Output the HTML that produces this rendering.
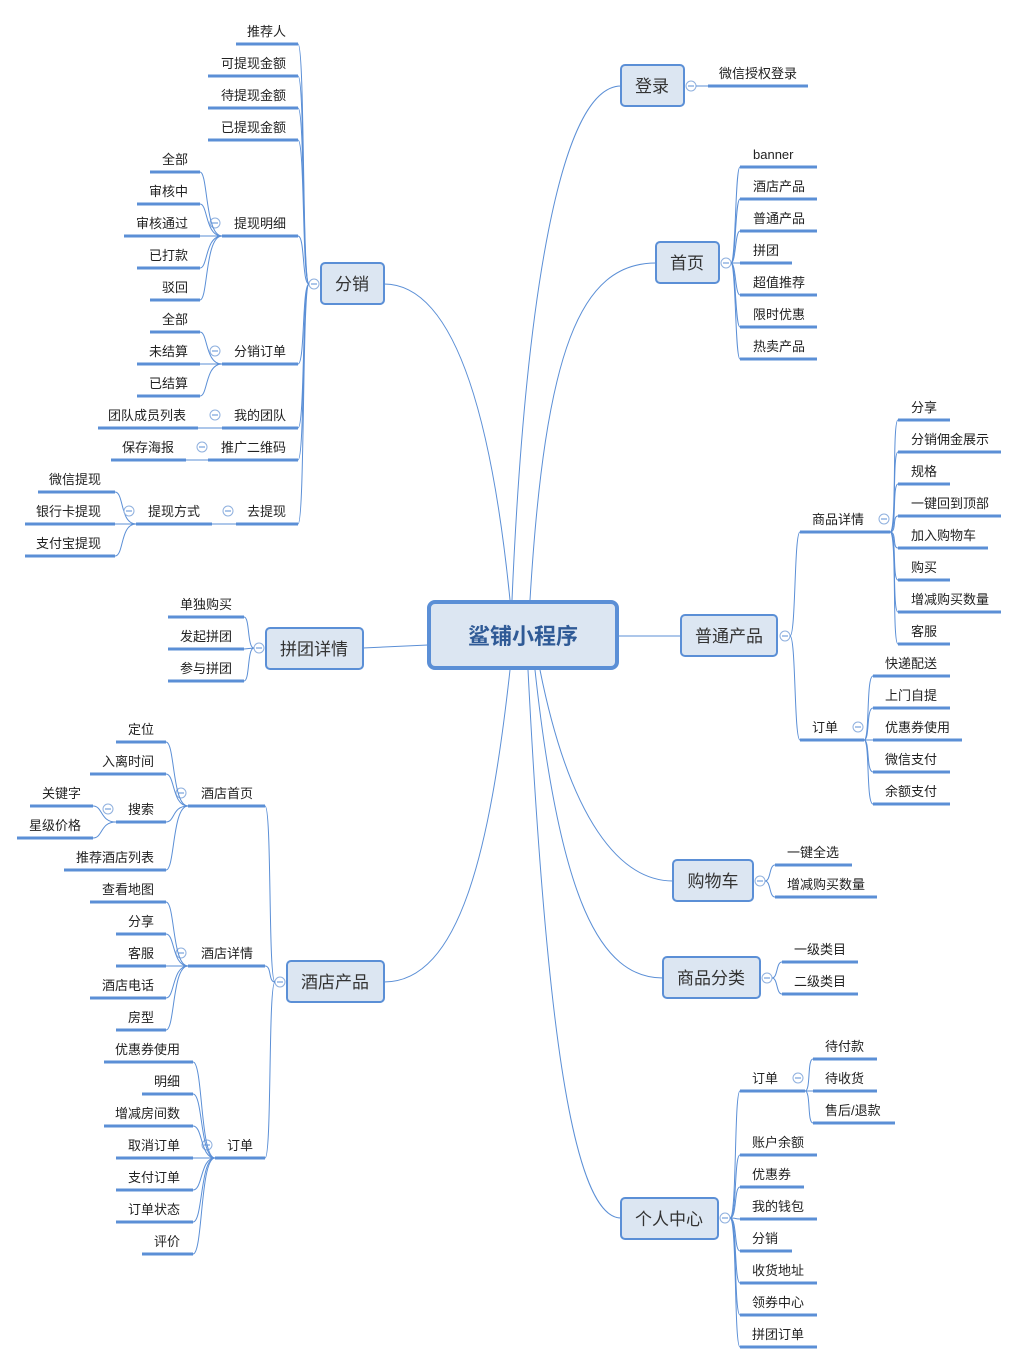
<!DOCTYPE html>
<html><head><meta charset="utf-8"><style>
html,body{margin:0;padding:0;background:#fff}
svg{display:block}
text{font-family:"Liberation Sans","Noto Sans CJK SC",sans-serif;font-size:13px;fill:#222}
.u{stroke:#5b8fd6;stroke-width:3}
.c{stroke:#5b8fd6;stroke-width:1;fill:none}
.m{fill:#dce6f2;stroke:#5b8fd6;stroke-width:2}
.mt{font-size:17px;fill:#333;text-anchor:middle}
.r{text-anchor:end}
.k{fill:#fff;stroke:#8fb0de;stroke-width:1}
</style></head><body>
<svg width="1019" height="1364" viewBox="0 0 1019 1364" xmlns="http://www.w3.org/2000/svg">
<!-- main connectors -->
<path class="c" d="M512 600 C525 300 560 86 621 86"/>
<path class="c" d="M530 600 C545 350 580 263 656 263"/>
<path class="c" d="M618 636 L681 636"/>
<path class="c" d="M540 670 C570 820 620 881 673 881"/>
<path class="c" d="M535 670 C560 900 600 978 663 978"/>
<path class="c" d="M528 670 C545 1000 570 1218 621 1218"/>
<path class="c" d="M510 600 C490 400 450 284 384 284"/>
<path class="c" d="M428 645 L363 648"/>
<path class="c" d="M510 670 C490 850 460 982 384 982"/>

<!-- center -->
<rect x="429" y="602" width="188" height="66" rx="6" fill="#dce6f2" stroke="#5b8fd6" stroke-width="4"/>
<text x="523" y="644" style="font-size:22px;font-weight:bold;fill:#2f5a96;text-anchor:middle">鲨铺小程序</text>

<!-- 登录 -->
<rect class="m" x="621" y="65" width="63" height="41" rx="4"/><text class="mt" x="652" y="92">登录</text>
<circle class="k" cx="691" cy="86" r="5"/><line x1="688" y1="86" x2="694" y2="86" class="c"/>
<path class="c" d="M696 86 L708 86"/>
<line class="u" x1="708" y1="86" x2="808" y2="86"/><text x="719" y="78">微信授权登录</text>

<!-- 首页 -->
<rect class="m" x="656" y="242" width="63" height="41" rx="4"/><text class="mt" x="687" y="269">首页</text>
<circle class="k" cx="726" cy="263" r="5"/><line x1="723" y1="263" x2="729" y2="263" class="c"/>
<g class="c">
<path d="M731 263 C736 263 735 167 740 167"/><path d="M731 263 C736 263 735 199 740 199"/><path d="M731 263 C736 263 735 231 740 231"/><path d="M731 263 L740 263"/><path d="M731 263 C736 263 735 295 740 295"/><path d="M731 263 C736 263 735 327 740 327"/><path d="M731 263 C736 263 735 359 740 359"/>
</g>
<g>
<line class="u" x1="740" y1="167" x2="817" y2="167"/><text x="753" y="159">banner</text>
<line class="u" x1="740" y1="199" x2="817" y2="199"/><text x="753" y="191">酒店产品</text>
<line class="u" x1="740" y1="231" x2="817" y2="231"/><text x="753" y="223">普通产品</text>
<line class="u" x1="740" y1="263" x2="792" y2="263"/><text x="753" y="255">拼团</text>
<line class="u" x1="740" y1="295" x2="817" y2="295"/><text x="753" y="287">超值推荐</text>
<line class="u" x1="740" y1="327" x2="817" y2="327"/><text x="753" y="319">限时优惠</text>
<line class="u" x1="740" y1="359" x2="817" y2="359"/><text x="753" y="351">热卖产品</text>
</g>

<!-- 普通产品 -->
<rect class="m" x="681" y="615" width="96" height="41" rx="4"/><text class="mt" x="729" y="642">普通产品</text>
<circle class="k" cx="785" cy="636" r="5"/><line x1="782" y1="636" x2="788" y2="636" class="c"/>
<path class="c" d="M790 636 C796 636 794 532 800 532"/><path class="c" d="M790 636 C796 636 794 740 800 740"/>
<line class="u" x1="800" y1="532" x2="890" y2="532"/><text x="812" y="524">商品详情</text>
<circle class="k" cx="884" cy="519" r="5"/><line x1="881" y1="519" x2="887" y2="519" class="c"/>
<g class="c">
<path d="M890 532 C897 532 892 420 898 420"/><path d="M890 532 C897 532 892 452 898 452"/><path d="M890 532 C897 532 892 484 898 484"/><path d="M890 532 C897 532 892 516 898 516"/><path d="M890 532 C897 532 892 548 898 548"/><path d="M890 532 C897 532 892 580 898 580"/><path d="M890 532 C897 532 892 612 898 612"/><path d="M890 532 C897 532 892 644 898 644"/>
</g>
<line class="u" x1="898" y1="420" x2="950" y2="420"/><text x="911" y="412">分享</text>
<line class="u" x1="898" y1="452" x2="1001" y2="452"/><text x="911" y="444">分销佣金展示</text>
<line class="u" x1="898" y1="484" x2="950" y2="484"/><text x="911" y="476">规格</text>
<line class="u" x1="898" y1="516" x2="1001" y2="516"/><text x="911" y="508">一键回到顶部</text>
<line class="u" x1="898" y1="548" x2="988" y2="548"/><text x="911" y="540">加入购物车</text>
<line class="u" x1="898" y1="580" x2="950" y2="580"/><text x="911" y="572">购买</text>
<line class="u" x1="898" y1="612" x2="1001" y2="612"/><text x="911" y="604">增减购买数量</text>
<line class="u" x1="898" y1="644" x2="950" y2="644"/><text x="911" y="636">客服</text>

<line class="u" x1="800" y1="740" x2="864" y2="740"/><text x="812" y="732">订单</text>
<circle class="k" cx="858" cy="727" r="5"/><line x1="855" y1="727" x2="861" y2="727" class="c"/>
<g class="c">
<path d="M864 740 C870 740 866 676 873 676"/><path d="M864 740 C870 740 866 708 873 708"/><path d="M864 740 L873 740"/><path d="M864 740 C870 740 866 772 873 772"/><path d="M864 740 C870 740 866 804 873 804"/>
</g>
<line class="u" x1="873" y1="676" x2="950" y2="676"/><text x="885" y="668">快递配送</text>
<line class="u" x1="873" y1="708" x2="950" y2="708"/><text x="885" y="700">上门自提</text>
<line class="u" x1="873" y1="740" x2="962" y2="740"/><text x="885" y="732">优惠券使用</text>
<line class="u" x1="873" y1="772" x2="950" y2="772"/><text x="885" y="764">微信支付</text>
<line class="u" x1="873" y1="804" x2="950" y2="804"/><text x="885" y="796">余额支付</text>

<!-- 购物车 -->
<rect class="m" x="673" y="860" width="80" height="41" rx="4"/><text class="mt" x="713" y="887">购物车</text>
<circle class="k" cx="760" cy="881" r="5"/><line x1="757" y1="881" x2="763" y2="881" class="c"/>
<path class="c" d="M765 881 C771 881 769 865 775 865"/><path class="c" d="M765 881 C771 881 769 897 775 897"/>
<line class="u" x1="775" y1="865" x2="852" y2="865"/><text x="787" y="857">一键全选</text>
<line class="u" x1="775" y1="897" x2="877" y2="897"/><text x="787" y="889">增减购买数量</text>

<!-- 商品分类 -->
<rect class="m" x="663" y="957" width="97" height="41" rx="4"/><text class="mt" x="711" y="984">商品分类</text>
<circle class="k" cx="767" cy="978" r="5"/><line x1="764" y1="978" x2="770" y2="978" class="c"/>
<path class="c" d="M772 978 C778 978 776 962 782 962"/><path class="c" d="M772 978 C778 978 776 994 782 994"/>
<line class="u" x1="782" y1="962" x2="858" y2="962"/><text x="794" y="954">一级类目</text>
<line class="u" x1="782" y1="994" x2="858" y2="994"/><text x="794" y="986">二级类目</text>

<!-- 个人中心 -->
<rect class="m" x="621" y="1198" width="97" height="41" rx="4"/><text class="mt" x="669" y="1225">个人中心</text>
<circle class="k" cx="725" cy="1218" r="5"/><line x1="722" y1="1218" x2="728" y2="1218" class="c"/>
<g class="c">
<path d="M730 1218 C737 1218 734 1091 740 1091"/><path d="M730 1218 C737 1218 734 1155 740 1155"/><path d="M730 1218 C737 1218 734 1187 740 1187"/><path d="M730 1218 C737 1218 734 1219 740 1219"/><path d="M730 1218 C737 1218 734 1251 740 1251"/><path d="M730 1218 C737 1218 734 1283 740 1283"/><path d="M730 1218 C737 1218 734 1315 740 1315"/><path d="M730 1218 C737 1218 734 1347 740 1347"/>
</g>
<line class="u" x1="740" y1="1091" x2="805" y2="1091"/><text x="752" y="1083">订单</text>
<circle class="k" cx="798" cy="1078" r="5"/><line x1="795" y1="1078" x2="801" y2="1078" class="c"/>
<path class="c" d="M805 1091 C811 1091 807 1059 813 1059"/><path class="c" d="M805 1091 L813 1091"/><path class="c" d="M805 1091 C811 1091 807 1123 813 1123"/>
<line class="u" x1="813" y1="1059" x2="877" y2="1059"/><text x="825" y="1051">待付款</text>
<line class="u" x1="813" y1="1091" x2="877" y2="1091"/><text x="825" y="1083">待收货</text>
<line class="u" x1="813" y1="1123" x2="895" y2="1123"/><text x="825" y="1115">售后/退款</text>
<line class="u" x1="740" y1="1155" x2="817" y2="1155"/><text x="752" y="1147">账户余额</text>
<line class="u" x1="740" y1="1187" x2="804" y2="1187"/><text x="752" y="1179">优惠券</text>
<line class="u" x1="740" y1="1219" x2="817" y2="1219"/><text x="752" y="1211">我的钱包</text>
<line class="u" x1="740" y1="1251" x2="792" y2="1251"/><text x="752" y="1243">分销</text>
<line class="u" x1="740" y1="1283" x2="817" y2="1283"/><text x="752" y="1275">收货地址</text>
<line class="u" x1="740" y1="1315" x2="817" y2="1315"/><text x="752" y="1307">领券中心</text>
<line class="u" x1="740" y1="1347" x2="817" y2="1347"/><text x="752" y="1339">拼团订单</text>

<!-- 分销 -->
<rect class="m" x="321" y="263" width="63" height="41" rx="4"/><text class="mt" x="352" y="290">分销</text>
<circle class="k" cx="314" cy="284" r="5"/><line x1="311" y1="284" x2="317" y2="284" class="c"/>
<g class="c">
<path d="M309 284 C302 284 305 44 298 44"/><path d="M309 284 C302 284 305 76 298 76"/><path d="M309 284 C302 284 305 108 298 108"/><path d="M309 284 C302 284 305 140 298 140"/><path d="M309 284 C302 284 305 236 298 236"/><path d="M309 284 C302 284 305 364 298 364"/><path d="M309 284 C302 284 305 428 298 428"/><path d="M309 284 C302 284 305 460 298 460"/><path d="M309 284 C302 284 305 524 298 524"/>
</g>
<line class="u" x1="236" y1="44" x2="298" y2="44"/><text class="r" x="286" y="36">推荐人</text>
<line class="u" x1="208" y1="76" x2="298" y2="76"/><text class="r" x="286" y="68">可提现金额</text>
<line class="u" x1="208" y1="108" x2="298" y2="108"/><text class="r" x="286" y="100">待提现金额</text>
<line class="u" x1="208" y1="140" x2="298" y2="140"/><text class="r" x="286" y="132">已提现金额</text>
<line class="u" x1="222" y1="236" x2="298" y2="236"/><text class="r" x="286" y="228">提现明细</text>
<circle class="k" cx="215" cy="223" r="5"/><line x1="212" y1="223" x2="218" y2="223" class="c"/>
<line class="u" x1="222" y1="364" x2="298" y2="364"/><text class="r" x="286" y="356">分销订单</text>
<circle class="k" cx="215" cy="351" r="5"/><line x1="212" y1="351" x2="218" y2="351" class="c"/>
<line class="u" x1="222" y1="428" x2="298" y2="428"/><text class="r" x="286" y="420">我的团队</text>
<circle class="k" cx="215" cy="415" r="5"/><line x1="212" y1="415" x2="218" y2="415" class="c"/>
<line class="u" x1="208" y1="460" x2="298" y2="460"/><text class="r" x="286" y="452">推广二维码</text>
<circle class="k" cx="202" cy="447" r="5"/><line x1="199" y1="447" x2="205" y2="447" class="c"/>
<line class="u" x1="236" y1="524" x2="298" y2="524"/><text class="r" x="286" y="516">去提现</text>
<circle class="k" cx="228" cy="511" r="5"/><line x1="225" y1="511" x2="231" y2="511" class="c"/>

<g class="c">
<path d="M222 236 C205 236 208 172 200 172"/><path d="M222 236 C205 236 208 204 200 204"/><path d="M222 236 L200 236"/><path d="M222 236 C205 236 208 268 200 268"/><path d="M222 236 C205 236 208 300 200 300"/>
<path d="M222 364 C205 364 208 332 200 332"/><path d="M222 364 L200 364"/><path d="M222 364 C205 364 208 396 200 396"/>
<path d="M222 428 L198 428"/><path d="M208 460 L186 460"/><path d="M236 524 L212 524"/>
<path d="M136 524 C120 524 124 492 115 492"/><path d="M136 524 L115 524"/><path d="M136 524 C120 524 124 556 115 556"/>
</g>
<line class="u" x1="150" y1="172" x2="200" y2="172"/><text class="r" x="188" y="164">全部</text>
<line class="u" x1="137" y1="204" x2="200" y2="204"/><text class="r" x="188" y="196">审核中</text>
<line class="u" x1="124" y1="236" x2="200" y2="236"/><text class="r" x="188" y="228">审核通过</text>
<line class="u" x1="137" y1="268" x2="200" y2="268"/><text class="r" x="188" y="260">已打款</text>
<line class="u" x1="150" y1="300" x2="200" y2="300"/><text class="r" x="188" y="292">驳回</text>
<line class="u" x1="150" y1="332" x2="200" y2="332"/><text class="r" x="188" y="324">全部</text>
<line class="u" x1="137" y1="364" x2="200" y2="364"/><text class="r" x="188" y="356">未结算</text>
<line class="u" x1="137" y1="396" x2="200" y2="396"/><text class="r" x="188" y="388">已结算</text>
<line class="u" x1="98" y1="428" x2="198" y2="428"/><text class="r" x="186" y="420">团队成员列表</text>
<line class="u" x1="111" y1="460" x2="186" y2="460"/><text class="r" x="174" y="452">保存海报</text>
<line class="u" x1="136" y1="524" x2="212" y2="524"/><text class="r" x="200" y="516">提现方式</text>
<circle class="k" cx="129" cy="511" r="5"/><line x1="126" y1="511" x2="132" y2="511" class="c"/>
<line class="u" x1="38" y1="492" x2="115" y2="492"/><text class="r" x="101" y="484">微信提现</text>
<line class="u" x1="25" y1="524" x2="115" y2="524"/><text class="r" x="101" y="516">银行卡提现</text>
<line class="u" x1="25" y1="556" x2="115" y2="556"/><text class="r" x="101" y="548">支付宝提现</text>

<!-- 拼团详情 -->
<rect class="m" x="266" y="628" width="97" height="41" rx="4"/><text class="mt" x="314" y="655">拼团详情</text>
<circle class="k" cx="259" cy="648" r="5"/><line x1="256" y1="648" x2="262" y2="648" class="c"/>
<path class="c" d="M254 648 C247 648 250 617 244 617"/><path class="c" d="M254 648 L244 649"/><path class="c" d="M254 648 C247 648 250 681 244 681"/>
<line class="u" x1="168" y1="617" x2="244" y2="617"/><text class="r" x="232" y="609">单独购买</text>
<line class="u" x1="168" y1="649" x2="244" y2="649"/><text class="r" x="232" y="641">发起拼团</text>
<line class="u" x1="168" y1="681" x2="244" y2="681"/><text class="r" x="232" y="673">参与拼团</text>

<!-- 酒店产品 -->
<rect class="m" x="287" y="961" width="97" height="41" rx="4"/><text class="mt" x="335" y="988">酒店产品</text>
<circle class="k" cx="280" cy="982" r="5"/><line x1="277" y1="982" x2="283" y2="982" class="c"/>
<path class="c" d="M275 982 C268 982 272 806 265 806"/><path class="c" d="M275 982 C268 982 272 966 265 966"/><path class="c" d="M275 982 C268 982 272 1158 265 1158"/>
<line class="u" x1="188" y1="806" x2="265" y2="806"/><text class="r" x="253" y="798">酒店首页</text>
<circle class="k" cx="181" cy="793" r="5"/><line x1="178" y1="793" x2="184" y2="793" class="c"/>
<line class="u" x1="188" y1="966" x2="265" y2="966"/><text class="r" x="253" y="958">酒店详情</text>
<circle class="k" cx="181" cy="953" r="5"/><line x1="178" y1="953" x2="184" y2="953" class="c"/>
<line class="u" x1="215" y1="1158" x2="265" y2="1158"/><text class="r" x="253" y="1150">订单</text>
<circle class="k" cx="207" cy="1145" r="5"/><line x1="204" y1="1145" x2="210" y2="1145" class="c"/>
<g class="c">
<path d="M188 806 C172 806 175 742 166 742"/><path d="M188 806 C172 806 175 774 166 774"/><path d="M188 806 C172 806 175 822 166 822"/><path d="M188 806 C172 806 175 870 166 870"/>
<path d="M116 822 C100 822 103 806 93 806"/><path d="M116 822 C100 822 103 838 93 838"/>
<path d="M188 966 C172 966 175 902 166 902"/><path d="M188 966 C172 966 175 934 166 934"/><path d="M188 966 L166 966"/><path d="M188 966 C172 966 175 998 166 998"/><path d="M188 966 C172 966 175 1030 166 1030"/>
<path d="M215 1158 C200 1158 203 1062 193 1062"/><path d="M215 1158 C200 1158 203 1094 193 1094"/><path d="M215 1158 C200 1158 203 1126 193 1126"/><path d="M215 1158 L193 1158"/><path d="M215 1158 C200 1158 203 1190 193 1190"/><path d="M215 1158 C200 1158 203 1222 193 1222"/><path d="M215 1158 C200 1158 203 1254 193 1254"/>
</g>
<line class="u" x1="116" y1="742" x2="166" y2="742"/><text class="r" x="154" y="734">定位</text>
<line class="u" x1="90" y1="774" x2="166" y2="774"/><text class="r" x="154" y="766">入离时间</text>
<line class="u" x1="116" y1="822" x2="166" y2="822"/><text class="r" x="154" y="814">搜索</text>
<circle class="k" cx="108" cy="809" r="5"/><line x1="105" y1="809" x2="111" y2="809" class="c"/>
<line class="u" x1="64" y1="870" x2="166" y2="870"/><text class="r" x="154" y="862">推荐酒店列表</text>
<line class="u" x1="30" y1="806" x2="93" y2="806"/><text class="r" x="81" y="798">关键字</text>
<line class="u" x1="17" y1="838" x2="93" y2="838"/><text class="r" x="81" y="830">星级价格</text>
<line class="u" x1="90" y1="902" x2="166" y2="902"/><text class="r" x="154" y="894">查看地图</text>
<line class="u" x1="116" y1="934" x2="166" y2="934"/><text class="r" x="154" y="926">分享</text>
<line class="u" x1="116" y1="966" x2="166" y2="966"/><text class="r" x="154" y="958">客服</text>
<line class="u" x1="90" y1="998" x2="166" y2="998"/><text class="r" x="154" y="990">酒店电话</text>
<line class="u" x1="116" y1="1030" x2="166" y2="1030"/><text class="r" x="154" y="1022">房型</text>
<line class="u" x1="104" y1="1062" x2="193" y2="1062"/><text class="r" x="180" y="1054">优惠券使用</text>
<line class="u" x1="142" y1="1094" x2="193" y2="1094"/><text class="r" x="180" y="1086">明细</text>
<line class="u" x1="104" y1="1126" x2="193" y2="1126"/><text class="r" x="180" y="1118">增减房间数</text>
<line class="u" x1="116" y1="1158" x2="193" y2="1158"/><text class="r" x="180" y="1150">取消订单</text>
<line class="u" x1="116" y1="1190" x2="193" y2="1190"/><text class="r" x="180" y="1182">支付订单</text>
<line class="u" x1="116" y1="1222" x2="193" y2="1222"/><text class="r" x="180" y="1214">订单状态</text>
<line class="u" x1="142" y1="1254" x2="193" y2="1254"/><text class="r" x="180" y="1246">评价</text>
</svg>
</body></html>
